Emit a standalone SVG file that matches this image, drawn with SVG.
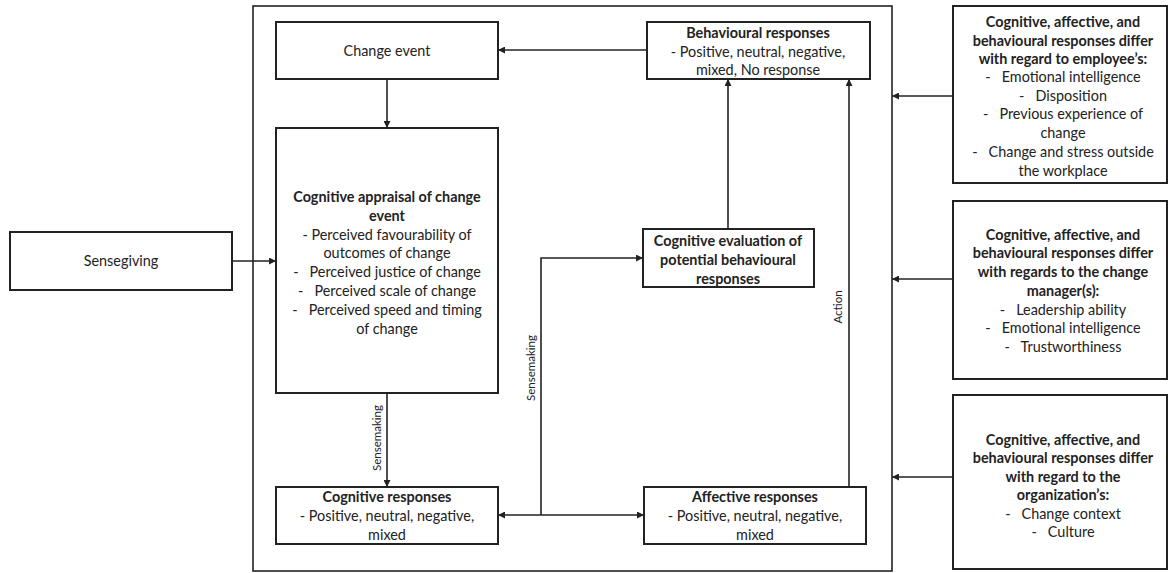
<svg xmlns="http://www.w3.org/2000/svg" width="1168" height="573" viewBox="0 0 1168 573">
<style>
.box{fill:#fff;stroke:#222;stroke-width:2}
.frame{fill:none;stroke:#222;stroke-width:1.6}
.ln{fill:none;stroke:#222;stroke-width:1.6}
text{font-family:Lato,"Liberation Sans",sans-serif;font-size:14.4px;fill:#222;text-anchor:middle}
.b{font-weight:bold}
.lbl{font-size:11.5px}
</style>
<defs>
<marker id="ah" viewBox="0 0 10 10" refX="10" refY="5" markerWidth="7" markerHeight="7" markerUnits="userSpaceOnUse" orient="auto-start-reverse">
<path d="M0,0 L10,5 L0,10 z" fill="#222"/>
</marker>
</defs>
<rect id="frame" class="frame" x="253" y="6" width="639" height="565"/>
<g id="sensegiving"><rect class="box" x="10" y="232" width="222" height="58"/><text x="121" y="266">Sensegiving</text></g>
<g id="change-event"><rect class="box" x="276" y="22" width="222" height="57"/><text x="387" y="56">Change event</text></g>
<g id="appraisal"><rect class="box" x="276" y="128" width="222" height="265"/>
<text x="387" y="202" class="b">Cognitive appraisal of change</text>
<text x="387" y="221" class="b">event</text>
<text x="387" y="240">- Perceived favourability of</text>
<text x="387" y="258">outcomes of change</text>
<text x="387" y="277" xml:space="preserve">-   Perceived justice of change</text>
<text x="387" y="296" xml:space="preserve">-   Perceived scale of change</text>
<text x="387" y="315" xml:space="preserve">-   Perceived speed and timing</text>
<text x="387" y="334">of change</text></g>
<g id="cognitive-responses"><rect class="box" x="276" y="487" width="222" height="57"/>
<text x="387" y="502" class="b">Cognitive responses</text>
<text x="387" y="521">- Positive, neutral, negative,</text>
<text x="387" y="540">mixed</text></g>
<g id="affective-responses"><rect class="box" x="644" y="487" width="222" height="57"/>
<text x="755" y="502" class="b">Affective responses</text>
<text x="755" y="521">- Positive, neutral, negative,</text>
<text x="755" y="540">mixed</text></g>
<g id="evaluation"><rect class="box" x="643" y="229" width="171" height="58"/>
<text x="728" y="246" class="b">Cognitive evaluation of</text>
<text x="728" y="265" class="b">potential behavioural</text>
<text x="728" y="284" class="b">responses</text></g>
<g id="behavioural"><rect class="box" x="647" y="22" width="223" height="57"/>
<text x="758" y="38" class="b">Behavioural responses</text>
<text x="758" y="57">- Positive, neutral, negative,</text>
<text x="758" y="75">mixed, No response</text></g>
<g id="employee"><rect class="box" x="953" y="6" width="214" height="177"/>
<text x="1063" y="27" class="b">Cognitive, affective, and</text>
<text x="1063" y="46" class="b">behavioural responses differ</text>
<text x="1063" y="64" class="b">with regard to employee’s:</text>
<text x="1063" y="82" xml:space="preserve">-   Emotional intelligence</text>
<text x="1063" y="101" xml:space="preserve">-   Disposition</text>
<text x="1063" y="119" xml:space="preserve">-   Previous experience of</text>
<text x="1063" y="138">change</text>
<text x="1063" y="157" xml:space="preserve">-   Change and stress outside</text>
<text x="1063" y="176">the workplace</text></g>
<g id="manager"><rect class="box" x="953" y="201" width="214" height="178"/>
<text x="1063" y="240" class="b">Cognitive, affective, and</text>
<text x="1063" y="258" class="b">behavioural responses differ</text>
<text x="1063" y="277" class="b">with regards to the change</text>
<text x="1063" y="296" class="b">manager(s):</text>
<text x="1063" y="315" xml:space="preserve">-   Leadership ability</text>
<text x="1063" y="333" xml:space="preserve">-   Emotional intelligence</text>
<text x="1063" y="352" xml:space="preserve">-   Trustworthiness</text></g>
<g id="organization"><rect class="box" x="953" y="395" width="214" height="174"/>
<text x="1063" y="445" class="b">Cognitive, affective, and</text>
<text x="1063" y="463" class="b">behavioural responses differ</text>
<text x="1063" y="482" class="b">with regard to the</text>
<text x="1063" y="500" class="b">organization’s:</text>
<text x="1063" y="519" xml:space="preserve">-   Change context</text>
<text x="1063" y="537" xml:space="preserve">-   Culture</text></g>
<g id="connectors">
<line class="ln" x1="647" y1="50" x2="498" y2="50" marker-end="url(#ah)"/>
<line class="ln" x1="387" y1="79" x2="387" y2="128" marker-end="url(#ah)"/>
<line class="ln" x1="232" y1="261" x2="276" y2="261" marker-end="url(#ah)"/>
<line class="ln" x1="387" y1="393" x2="387" y2="487" marker-end="url(#ah)"/>
<line class="ln" x1="498" y1="515" x2="644" y2="515" marker-start="url(#ah)" marker-end="url(#ah)"/>
<path class="ln" d="M541,515 V258 H643" marker-end="url(#ah)"/>
<line class="ln" x1="728" y1="229" x2="728" y2="79" marker-end="url(#ah)"/>
<line class="ln" x1="849" y1="487" x2="849" y2="79" marker-end="url(#ah)"/>
<line class="ln" x1="953" y1="96" x2="892" y2="96" marker-end="url(#ah)"/>
<line class="ln" x1="953" y1="279" x2="892" y2="279" marker-end="url(#ah)"/>
<line class="ln" x1="953" y1="477" x2="892" y2="477" marker-end="url(#ah)"/>
<text class="lbl" transform="translate(381,438) rotate(-90)">Sensemaking</text>
<text class="lbl" transform="translate(535,368) rotate(-90)">Sensemaking</text>
<text class="lbl" transform="translate(842,307) rotate(-90)">Action</text>
</g>
</svg>
